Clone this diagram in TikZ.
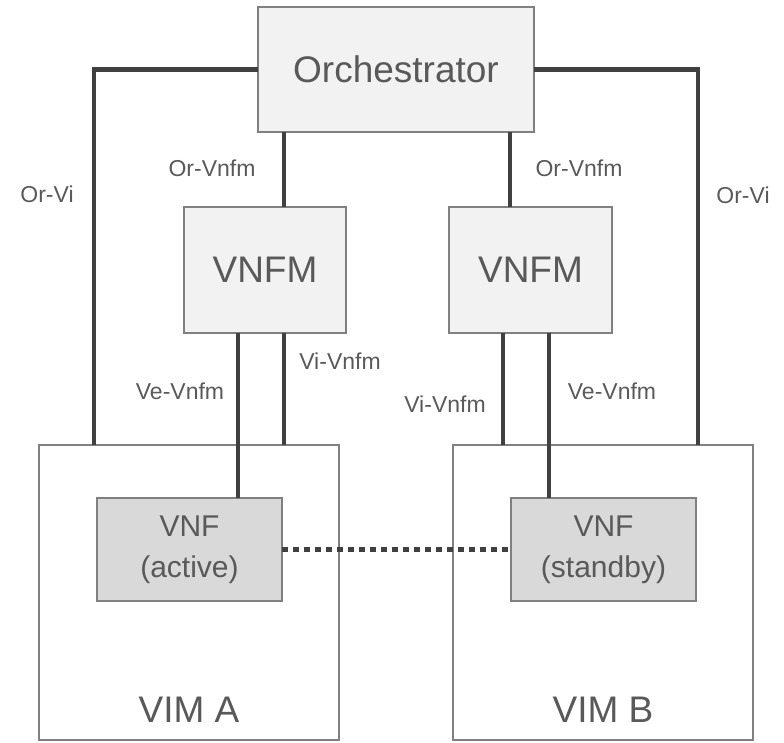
\documentclass[tikz,border=0pt]{standalone}
\usepackage{fontspec}
\setmainfont{Liberation Sans}
\usepackage{xcolor}

\definecolor{txtgray}{HTML}{595959}
\definecolor{linegray}{HTML}{404040}
\definecolor{edgegray}{HTML}{808080}
\definecolor{mgrfill}{HTML}{F2F2F2}
\definecolor{vnffill}{HTML}{D9D9D9}

\begin{document}
\begin{tikzpicture}[
    x=1pt, y=-1pt,
    every node/.style={text=txtgray, inner sep=0pt, outer sep=0pt},
    box/.style={draw=edgegray, line width=1.8pt, align=center},
    mgr/.style={box, fill=mgrfill, font=\fontsize{37}{44}\selectfont},
    vim/.style={box, fill=white, minimum width=300pt, minimum height=295pt},
    vnf/.style={box, fill=vnffill, minimum width=185pt, minimum height=103pt,
                font=\fontsize{30}{41}\selectfont},
    big/.style={font=\fontsize{37}{44}\selectfont},
    lbl/.style={font=\fontsize{23}{28}\selectfont},
    link/.style={draw=linegray, line width=4.5pt},
  ]
  \useasboundingbox (0,0) rectangle (784,742);
  \node[mgr, minimum width=276pt, minimum height=125pt] (orch) at (396,69.5) {Orchestrator};
  \node[mgr, minimum width=162pt, minimum height=126pt] (vnfmA) at (265,270) {VNFM};
  \node[mgr, minimum width=163pt, minimum height=126pt] (vnfmB) at (530.5,270) {VNFM};
  \node[vim] (vimA) at (189,592.5) {};
  \node[vim] (vimB) at (603,592.5) {};
  \node[vnf] (vnfA) at (189.5,549.5) {VNF\\(active)};
  \node[vnf] (vnfB) at (603.5,549.5) {VNF\\(standby)};
  \node[big] (vimAname) at (189,710) {VIM A};
  \node[big] (vimBname) at (603,710) {VIM B};
  % attachment points
  \coordinate (aOr) at ([xshift=19pt]vnfmA.north);
  \coordinate (aVi) at ([xshift=19pt]vnfmA.south);
  \coordinate (aVe) at ([xshift=-27pt]vnfmA.south);
  \coordinate (bOr) at ([xshift=-20.5pt]vnfmB.north);
  \coordinate (bVe) at ([xshift=18.5pt]vnfmB.south);
  \coordinate (bVi) at ([xshift=-27.5pt]vnfmB.south);
  \coordinate (aOV) at ([xshift=55pt]vimA.north west);
  \coordinate (bOV) at ([xshift=-55pt]vimB.north east);
  \draw[link] (orch.west) -| (aOV);
  \draw[link] (orch.east) -| (bOV);
  \draw[link] (orch.south -| aOr) -- (aOr);
  \draw[link] (orch.south -| bOr) -- (bOr);
  \draw[link] (aVe) -- (aVe |- vnfA.north);
  \draw[link] (aVi) -- (aVi |- vimA.north);
  \draw[link] (bVi) -- (bVi |- vimB.north);
  \draw[link] (bVe) -- (bVe |- vnfB.north);
  \draw[link, dash pattern=on 6pt off 5pt] (vnfA.east) -- (vnfB.west);
  % interface labels
  \node[lbl] (orviA) at (47,194) {Or-Vi};
  \node[lbl] (orviB) at (743,195) {Or-Vi};
  \node[lbl] (orvnfmA) at (212,168) {Or-Vnfm};
  \node[lbl] (orvnfmB) at (579,168) {Or-Vnfm};
  \node[lbl] (vivnfmA) at (340,361) {Vi-Vnfm};
  \node[lbl] (vevnfmA) at (180,391) {Ve-Vnfm};
  \node[lbl] (vivnfmB) at (445,404) {Vi-Vnfm};
  \node[lbl] (vevnfmB) at (612,391) {Ve-Vnfm};
\end{tikzpicture}
\end{document}
